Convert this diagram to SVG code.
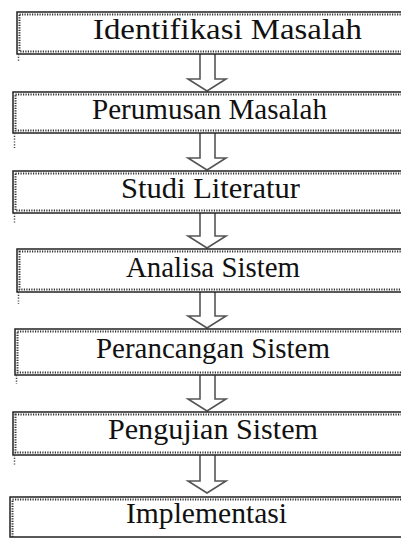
<svg xmlns="http://www.w3.org/2000/svg" width="401" height="538" viewBox="0 0 401 538">
<style>
.box{fill:#fff;stroke:#222;stroke-width:1.5}
.dots{fill:none;stroke:#333;stroke-width:2;stroke-dasharray:1.2 1.3}
.tail{fill:none;stroke:#444;stroke-width:1.5;stroke-dasharray:1.2 1.6}
.lbl{font-family:"Liberation Serif","Times New Roman",serif;font-size:30px;fill:#111;text-anchor:middle}
.arr{fill:#fff;stroke:#555;stroke-width:1.6;stroke-linejoin:miter}
</style>
<rect width="401" height="538" fill="#fff"/>
<g id="connectors">
<path class="arr" d="M200,54 V79 H188 L207,91 L226,79 H215 V54"/>
<path class="arr" d="M200,133 V158 H188 L207,170 L226,158 H215 V133"/>
<path class="arr" d="M200,213 V236 H188 L207,248 L226,236 H215 V213"/>
<path class="arr" d="M200,292 V316 H188 L207,328 L226,316 H215 V292"/>
<path class="arr" d="M200,375 V399 H188 L207,411 L226,399 H215 V375"/>
<path class="arr" d="M200,455 V481 H188 L207,493 L226,481 H215 V455"/>
</g>
<g id="n1">
<rect class="box" x="17" y="12" width="400" height="42"/>
<rect class="dots" x="19.5" y="14.5" width="400" height="37"/>
<path class="tail" d="M18.5,54 V62"/>
<text class="lbl" x="227.5" y="39" textLength="269" lengthAdjust="spacingAndGlyphs">Identifikasi Masalah</text>
</g>
<g id="n2">
<rect class="box" x="13" y="92" width="400" height="41"/>
<rect class="dots" x="15.5" y="94.5" width="400" height="36"/>
<path class="tail" d="M14.5,133 V148"/>
<text class="lbl" x="209.5" y="119" textLength="235" lengthAdjust="spacingAndGlyphs">Perumusan Masalah</text>
</g>
<g id="n3">
<rect class="box" x="13" y="171" width="400" height="42"/>
<rect class="dots" x="15.5" y="173.5" width="400" height="37"/>
<path class="tail" d="M14.5,213 V224"/>
<text class="lbl" x="210.5" y="198" textLength="179" lengthAdjust="spacingAndGlyphs">Studi Literatur</text>
</g>
<g id="n4">
<rect class="box" x="17" y="249" width="400" height="43"/>
<rect class="dots" x="19.5" y="251.5" width="400" height="38"/>
<path class="tail" d="M18.5,292 V304"/>
<text class="lbl" x="213" y="277" textLength="174" lengthAdjust="spacingAndGlyphs">Analisa Sistem</text>
</g>
<g id="n5">
<rect class="box" x="15" y="329" width="400" height="46"/>
<rect class="dots" x="17.5" y="331.5" width="400" height="41"/>
<path class="tail" d="M16.5,375 V384"/>
<text class="lbl" x="213" y="358" textLength="234" lengthAdjust="spacingAndGlyphs">Perancangan Sistem</text>
</g>
<g id="n6">
<rect class="box" x="13" y="412" width="400" height="43"/>
<rect class="dots" x="15.5" y="414.5" width="400" height="38"/>
<path class="tail" d="M14.5,455 V466"/>
<text class="lbl" x="213" y="439" textLength="210" lengthAdjust="spacingAndGlyphs">Pengujian Sistem</text>
</g>
<g id="n7">
<rect class="box" x="10" y="497" width="400" height="40"/>
<rect class="dots" x="12.5" y="499.5" width="400" height="40"/>
<text class="lbl" x="206.5" y="523" textLength="161" lengthAdjust="spacingAndGlyphs">Implementasi</text>
</g>
</svg>
